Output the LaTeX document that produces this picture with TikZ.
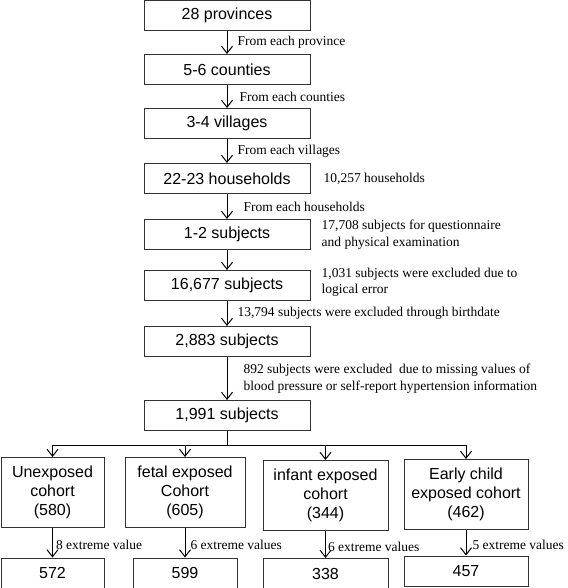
\documentclass[tikz,border=0pt]{standalone}
\usepackage{fontspec}
\setmainfont{Liberation Serif}
\setsansfont{Liberation Sans}
\usetikzlibrary{arrows.meta,positioning}
\tikzset{
	%Define standard arrow tip
	>={Straight Barb[length=7pt,width=11pt]},
	%Define style for boxes
	stage/.style={
		rectangle,
		draw=black!80, line width=1pt,
		minimum width=166pt,
		minimum height=30pt,
		inner sep=0pt,
		text centered,
		font=\sffamily\fontsize{16}{19}\selectfont},
	% Define style for cohort boxes
	cohort/.style={
		stage,
		align=center,
		minimum height=70pt},
	% Define arrow style
	pil/.style={
		->,
		line width=1pt},
	% Define style for the notes
	note/.style={
		font=\fontsize{13.5}{16.5}\selectfont,
		align=left,
		inner sep=0pt}
}

\begin{document}
\begin{tikzpicture}[x=1pt, y=1pt, node distance=23pt]
	\useasboundingbox (0,0) rectangle (567,-588);
	
	\node[stage] (lvl1) at (227,-15.5) {28 provinces};
	\node[stage, below=23pt of lvl1] (lvl2) {5-6 counties};
	\node[stage, below=23pt of lvl2] (lvl3) {3-4 villages};
	\node[stage, below=24pt of lvl3] (lvl4) {22-23 households};
	\node[stage, below=25pt of lvl4] (lvl5) {1-2 subjects};
	\node[stage, below=20pt of lvl5] (lvl6) {16,677 subjects};
	\node[stage, below=25pt of lvl6] (lvl7) {2,883 subjects};
	\node[stage, below=43pt of lvl7] (lvl8) {1,991 subjects};
	
	\node[note, right=13pt of lvl4] (n1) {10,257 households};
	\node[note, right=11pt of lvl5] (n2) {17,708 subjects for questionnaire\\and physical examination};
	\node[note, right=11pt of lvl6, yshift=3pt] (n3) {1,031 subjects were excluded due to\\logical error};
	
	\path[every node/.style={note}]
	(lvl1) edge[pil] node[right=10pt] {From each province} (lvl2)
	(lvl2) edge[pil] node[right=12pt] {From each counties} (lvl3)
	(lvl3) edge[pil] node[right=10pt] {From each villages} (lvl4)
	(lvl4) edge[pil] node[right=16pt] {From each households} (lvl5)
	(lvl5) edge[pil] (lvl6)
	(lvl6) edge[pil] node[right=10pt] {13,794 subjects were excluded through birthdate} (lvl7)
	(lvl7) edge[pil] node[right=16pt] {892 subjects were excluded\ \ due to missing values of\\blood pressure or self-report hypertension information} (lvl8);
	
	% the four cohorts
	\node[cohort, minimum width=103pt] (coh1) at (52.5,-492.5) {Unexposed\\cohort\\(580)};
	\node[cohort, minimum width=120pt] (coh2) at (185,-492.5) {fetal exposed\\Cohort\\(605)};
	\node[cohort, minimum width=125pt] (coh3) at (325.5,-495.5) {infant exposed\\cohort\\(344)};
	\node[cohort, minimum width=124pt] (coh4) at (466,-494.5) {Early child\\exposed cohort\\(462)};
	
	\node[stage, minimum width=103pt, below=29.5pt of coh1] (fin1) {572};
	\node[stage, minimum width=104pt, below=29.5pt of coh2] (fin2) {599};
	\node[stage, minimum width=125pt, below=27pt of coh3] (fin3) {338};
	\node[stage, minimum width=124pt, below=25.5pt of coh4] (fin4) {457};
	
	\draw[line width=1pt] (lvl8.south) -- ++(0,-14.5) coordinate (split);
	\foreach \c in {coh1,coh2,coh3,coh4}
		\draw[pil] (split) -| (\c.north);
	
	\path[every node/.style={note}]
	(coh1) edge[pil] node[right=3pt, yshift=-2pt] {8 extreme value} (fin1)
	(coh2) edge[pil] node[right=5pt, yshift=-2pt] {6 extreme values} (fin2)
	(coh3) edge[pil] node[right=2pt, yshift=-2pt] {6 extreme values} (fin3)
	(coh4) edge[pil] node[right=6pt, yshift=-2pt] {5 extreme values} (fin4);
	
\end{tikzpicture}
\end{document}
